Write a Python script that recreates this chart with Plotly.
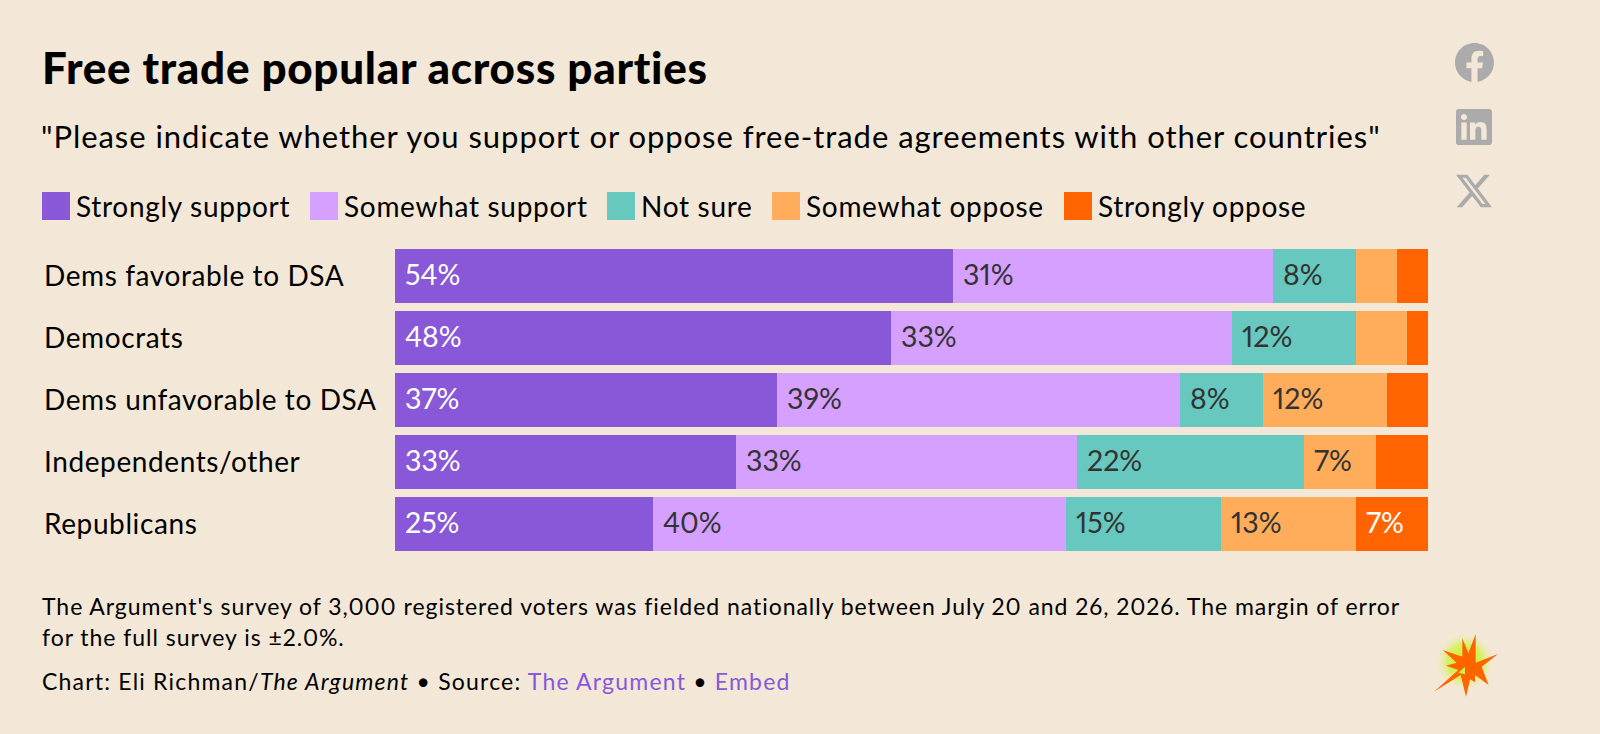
import base64

import plotly.graph_objects as go

WIDTH = 1600
HEIGHT = 734
BG = '#F3E8D8'
FONT = 'Lato'

categories = ['Dems favorable to DSA', 'Democrats', 'Dems unfavorable to DSA', 'Independents/other', 'Republicans']
series_names = ['Strongly support', 'Somewhat support', 'Not sure', 'Somewhat oppose', 'Strongly oppose']
colors = ['#8858D8', '#D5A0FF', '#66C8BE', '#FFAD5A', '#FF6400']
label_colors = ['#FFFFFF', '#333333', '#333333', '#333333', '#FFFFFF']

strongly_support = [54, 48, 37, 33, 25]
somewhat_support = [31, 33, 39, 33, 40]
not_sure = [8, 12, 8, 22, 15]
somewhat_oppose = [4, 5, 12, 7, 13]
strongly_oppose = [3, 2, 4, 5, 7]
series_values = [strongly_support, somewhat_support, not_sure, somewhat_oppose, strongly_oppose]

# left edge of each legend swatch
legend_x = [42, 310, 607, 772, 1064]

FACEBOOK = 'M24 12.073c0-6.627-5.373-12-12-12s-12 5.373-12 12c0 5.99 4.388 10.954 10.125 11.854v-8.385H7.078v-3.47h3.047V9.43c0-3.007 1.792-4.669 4.533-4.669 1.312 0 2.686.235 2.686.235v2.953H15.83c-1.491 0-1.956.925-1.956 1.874v2.25h3.328l-.532 3.47h-2.796v8.385C19.612 23.027 24 18.062 24 12.073z'
LINKEDIN = 'M20.447 20.452h-3.554v-5.569c0-1.328-.027-3.037-1.852-3.037-1.853 0-2.136 1.445-2.136 2.939v5.667H9.351V9h3.414v1.561h.046c.477-.9 1.637-1.85 3.37-1.85 3.601 0 4.267 2.37 4.267 5.455v6.286zM5.337 7.433c-1.144 0-2.063-.926-2.063-2.065 0-1.138.92-2.063 2.063-2.063 1.14 0 2.064.925 2.064 2.063 0 1.139-.925 2.065-2.064 2.065zm1.782 13.019H3.555V9h3.564v11.452zM22.225 0H1.771C.792 0 0 .774 0 1.729v20.542C0 23.227.792 24 1.771 24h20.451C23.2 24 24 23.227 24 22.271V1.729C24 .774 23.2 0 22.222 0h.003z'
X_LOGO = 'M18.901 1.153h3.68l-8.04 9.19L24 22.846h-7.406l-5.8-7.584-6.638 7.584H.474l8.6-9.83L0 1.154h7.594l5.243 6.932ZM17.61 20.644h2.039L6.486 3.24H4.298Z'

BURST = ('<svg xmlns="http://www.w3.org/2000/svg" viewBox="0 0 270 270">'
         '<defs><radialGradient id="g"><stop offset="0%" stop-color="#C8F020"/>'
         '<stop offset="55%" stop-color="#D4F050" stop-opacity="0.9"/>'
         '<stop offset="100%" stop-color="#F3E8D8" stop-opacity="0"/></radialGradient></defs>'
         '<circle cx="105" cy="125" r="92" fill="url(#g)"/>'
         '<path fill-rule="evenodd" fill="#FF6400" d="M12 215L85 150L48 137L80 128L38 90L97 110L97 55L115 100L137 42L137 128'
         'L204 102L155 140L176 195L135 165L135 187L120 178L108 230L92 165Z'
         'M85 158L105 140L105 163Z"/></svg>')


def px(x):
    return x / WIDTH


def py(y):
    return 1 - y / HEIGHT


def svg_uri(svg):
    return 'data:image/svg+xml;base64,' + base64.b64encode(svg.encode()).decode()


def icon(path, x, y, size):
    svg = f'<svg xmlns="http://www.w3.org/2000/svg" viewBox="0 0 24 24"><path fill="#ABABAB" d="{path}"/></svg>'
    return dict(source=svg_uri(svg), xref='paper', yref='paper', x=px(x), y=py(y),
                sizex=size / WIDTH, sizey=size / HEIGHT, xanchor='left', yanchor='top',
                sizing='stretch', layer='above')


def spaced(s, spacing):
    # Lato runs narrower than the original font, so open it up a little
    return f'<span style="letter-spacing:{spacing}px;font-feature-settings:\'pnum\'">{s}</span>'


def text(s, x, y, size, color='#000000', weight=400):
    return dict(text=s, xref='paper', yref='paper', x=px(x), y=py(y), xanchor='left', yanchor='middle',
                showarrow=False, align='left', font=dict(family=FONT, size=size, color=color, weight=weight))


fig = go.Figure()
for name, values, color in zip(series_names, series_values, colors):
    fig.add_trace(go.Bar(y=categories, x=values, name=name, orientation='h',
                         marker=dict(color=color, line=dict(width=0)), showlegend=False))

annotations = [
    text(spaced('Free trade popular across parties', 0.72), 40, 67, 44, weight=900),
    text(spaced('"Please indicate whether you support or oppose free-trade agreements with other countries"', 0.95), 39, 136, 31),
    text(spaced("The Argument's survey of 3,000 registered voters was fielded nationally between July 20 and 26, 2026. The margin of error", 0.96), 40, 606, 23),
    text(spaced('for the full survey is ±2.0%.', 0.96), 40, 637, 23),
    text(spaced('Chart: Eli Richman/<i>The Argument</i> • Source: <span style="color:#8858D8">The Argument</span> • <span style="color:#8858D8">Embed</span>', 1.2), 40, 681, 23),
]

shapes = []
for name, color, x0 in zip(series_names, colors, legend_x):
    shapes.append(dict(type='rect', xref='paper', yref='paper', x0=px(x0), x1=px(x0 + 28),
                       y0=py(220), y1=py(192), fillcolor=color, line_width=0))
    annotations.append(text(spaced(name, 0.7), x0 + 32, 206, 28))

for cat in categories:
    annotations.append(dict(text=spaced(cat, 0.6), xref='paper', yref='y', x=px(42), y=cat, xanchor='left', yanchor='middle',
                            yshift=1, showarrow=False, font=dict(family=FONT, size=28, color='#000000')))

for i, cat in enumerate(categories):
    start = 0
    for values, label_color in zip(series_values, label_colors):
        v = values[i]
        if v >= 7:
            annotations.append(dict(text=spaced(f'{v}%', 0), x=start, y=cat, xanchor='left', yanchor='middle',
                                    xshift=8, yshift=2, showarrow=False,
                                    font=dict(family=FONT, size=28.5, color=label_color)))
        start += v

images = [
    icon(FACEBOOK, 1455, 43, 39),
    icon(LINKEDIN, 1456, 109, 36),
    icon(X_LOGO, 1456, 173, 36),
    dict(source=svg_uri(BURST), xref='paper', yref='paper', x=px(1430), y=py(620),
         sizex=90 / WIDTH, sizey=90 / HEIGHT, xanchor='left', yanchor='top', sizing='stretch', layer='above'),
]

fig.update_layout(
    width=WIDTH,
    height=HEIGHT,
    barmode='stack',
    bargap=0.129,
    paper_bgcolor=BG,
    plot_bgcolor=BG,
    margin=dict(l=0, r=0, t=0, b=0),
    xaxis=dict(domain=[px(395), px(1428)], range=[0, 100], visible=False, fixedrange=True),
    yaxis=dict(domain=[py(555), py(245)], autorange='reversed', visible=False, fixedrange=True),
    annotations=annotations,
    shapes=shapes,
    images=images,
)

fig.write_html('out.html', config={'displayModeBar': False},
               post_script="document.body.style.margin='0';document.body.style.overflow='hidden';")
